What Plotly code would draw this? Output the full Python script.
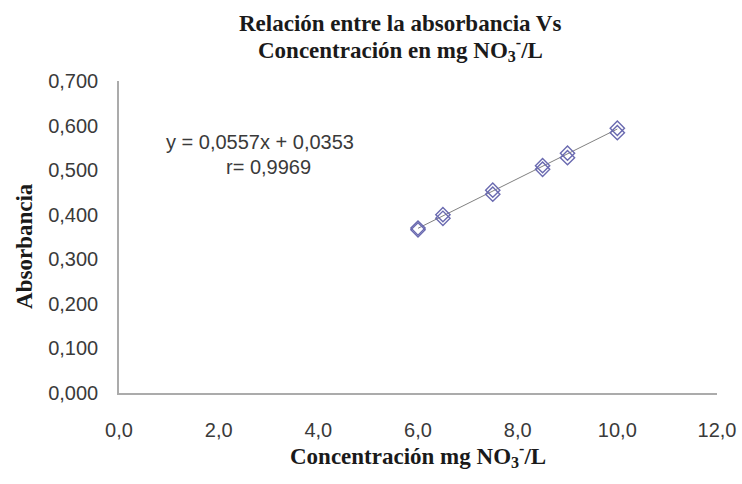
import plotly.graph_objects as go

# ── Datos ────────────────────────────────────────────────────────────────
concentracion = [6.0, 6.0, 6.5, 6.5, 7.5, 7.5, 8.5, 8.5, 9.0, 9.0, 10.0, 10.0]
absorbancia   = [0.366, 0.370, 0.392, 0.400, 0.446, 0.455,
                 0.502, 0.510, 0.528, 0.538, 0.584, 0.594]

# recta de calibración indicada en el gráfico
PENDIENTE  = 0.0557
INTERCEPTO = 0.0353
x_recta = [min(concentracion), max(concentracion)]
y_recta = [PENDIENTE * x + INTERCEPTO for x in x_recta]

ecuacion    = "y = 0,0557x + 0,0353"
correlacion = "r= 0,9969"
titulo_1 = "<b>Relación entre la absorbancia Vs</b>"
titulo_2 = "<b>Concentración en mg NO<sub>3</sub><sup>-</sup>/L</b>"
titulo_x = "<b>Concentración mg NO<sub>3</sub><sup>-</sup>/L</b>"
titulo_y = "<b>Absorbancia</b>"

SERIF = "Liberation Serif, Times New Roman, serif"
SANS  = "Liberation Sans, Arial, sans-serif"
COLOR_MARCADOR = "#6A6AB0"
COLOR_TEXTO = "#3A3A3A"
FUENTE_TITULO = dict(family=SERIF, size=23, color="#1A1A1A")
FUENTE_TICKS  = dict(family=SANS, size=20, color=COLOR_TEXTO)

fig = go.Figure()

fig.add_trace(go.Scatter(
    x=x_recta, y=y_recta, mode="lines",
    line=dict(color="#808080", width=1),
    showlegend=False, hoverinfo="skip",
))
fig.add_trace(go.Scatter(
    x=concentracion, y=absorbancia, mode="markers",
    marker=dict(symbol="diamond-open", size=11,
                color=COLOR_MARCADOR, line=dict(width=1.4, color=COLOR_MARCADOR)),
    showlegend=False,
))

# ecuación y coeficiente
fig.add_annotation(x=2.83, y=0.563, text=ecuacion, showarrow=False,
                   font=dict(family=SANS, size=20, color=COLOR_TEXTO))
fig.add_annotation(x=2.99, y=0.507, text=correlacion, showarrow=False,
                   font=dict(family=SANS, size=20, color=COLOR_TEXTO))

# títulos como anotaciones (interlineado ajustado)
fig.add_annotation(xref="paper", yref="paper", x=0.47, y=1.183, text=titulo_1,
                   showarrow=False, font=FUENTE_TITULO, yanchor="middle")
fig.add_annotation(xref="paper", yref="paper", x=0.47, y=1.100, text=titulo_2,
                   showarrow=False, font=FUENTE_TITULO, yanchor="middle")
fig.add_annotation(xref="paper", yref="paper", x=0.5, y=-0.2, text=titulo_x,
                   showarrow=False, font=FUENTE_TITULO, yanchor="middle")
fig.add_annotation(xref="paper", yref="paper", x=-0.158, y=0.47, text=titulo_y,
                   showarrow=False, font=FUENTE_TITULO, textangle=-90,
                   xanchor="center", yanchor="middle")

fig.update_layout(
    width=742, height=484,
    paper_bgcolor="white", plot_bgcolor="white",
    separators=",.",
    margin=dict(l=119, r=25, t=81, b=91, autoexpand=False),
    xaxis=dict(
        range=[0, 12], dtick=2, tickformat=".1f",
        showgrid=False, zeroline=False, automargin=False,
        showline=True, linecolor="#ABABAB", linewidth=1.5,
        ticks="", ticklabelstandoff=18,
        tickfont=FUENTE_TICKS,
    ),
    yaxis=dict(
        range=[0, 0.7], dtick=0.1, tickformat=".3f",
        showgrid=False, zeroline=False, automargin=False,
        showline=True, linecolor="#ABABAB", linewidth=1.5,
        ticks="", ticklabelstandoff=15,
        tickfont=FUENTE_TICKS,
    ),
)

# sin margen del <body> para que la figura ocupe la ventana exacta
fig.write_html("out.html",
               config={"displayModeBar": False},
               post_script="document.body.style.margin='0';"
                           "document.body.style.overflow='hidden';")
